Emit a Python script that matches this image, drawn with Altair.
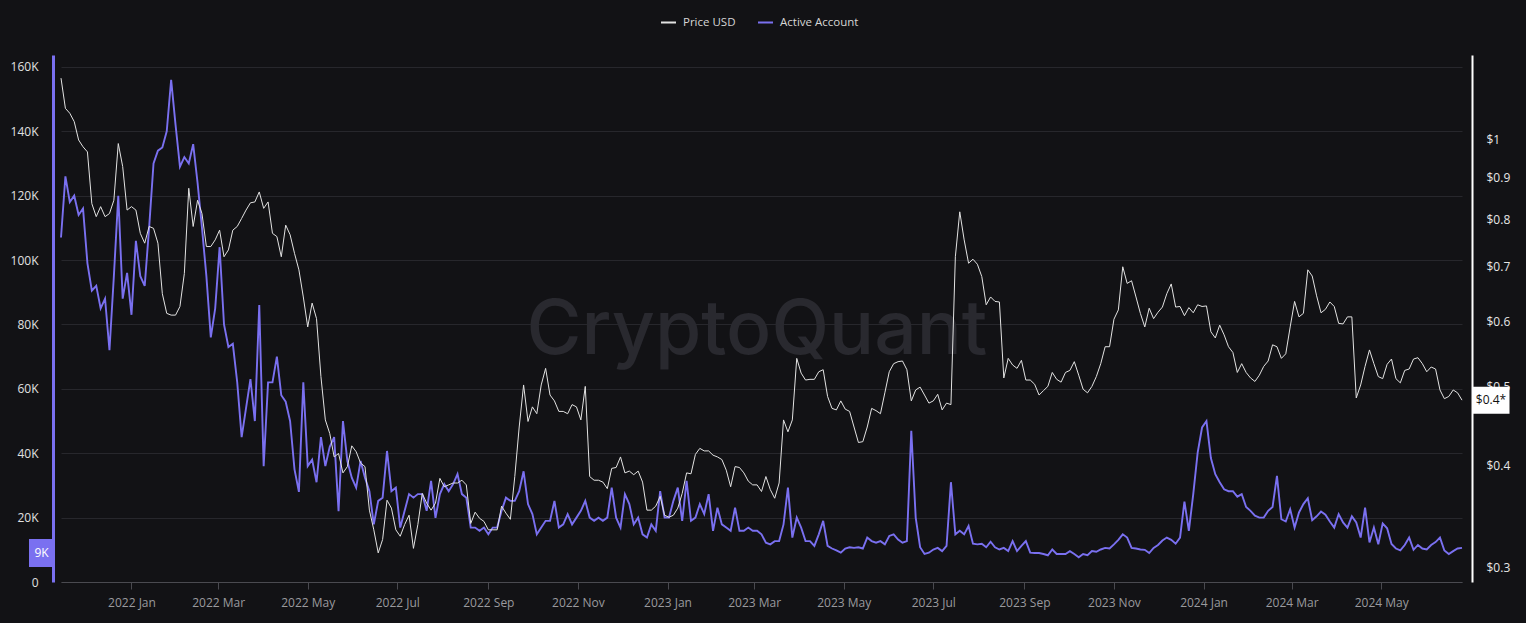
import altair as alt
import pandas as pd

# ---------------- data ----------------
START = "2021-11-14"          # first daily sample shown
STEP_DAYS = 3                 # values read every 3 days

active_account_k = [
    107, 126, 118, 120, 114, 116, 99, 90.5, 92, 85, 88, 72, 95, 120, 88, 96, 83, 106, 95, 92,
    110, 130, 134, 135, 140, 156, 142, 129, 132, 130, 136, 124, 110, 95, 76, 85, 104, 80, 73, 74,
    62, 45, 54, 63, 50, 86, 36, 62, 62, 70, 58, 56, 50, 35, 28, 62, 36, 38, 31, 45,
    36, 42, 45, 22, 50, 37.6, 32.4, 29.3, 37.6, 32.4, 28.2, 17.9, 25.2, 26.2, 40.7, 28.2, 29.3, 16.9, 22.1, 27.3,
    26.2, 27.3, 27.3, 22.1, 31.4, 19.9, 27.3, 30.4, 28.2, 30.4, 33.5, 27.3, 26.2, 16.9, 16.9, 15.9, 16.9, 14.8, 16.9, 16.9,
    22.1, 26.2, 25.2, 25.2, 28.2, 34.4, 24.2, 21.1, 14.8, 16.9, 19, 19, 25.2, 16.9, 17.9, 21.1, 17.9, 20, 22.1, 25.2,
    20, 19, 20, 19, 20, 29.3, 20, 16.9, 27.3, 24.2, 17.9, 20, 14.8, 13.8, 17.9, 15.9, 28.2, 20, 20, 25.2,
    29.3, 19, 31.4, 19, 20, 24.2, 21.1, 27.3, 15.9, 23.1, 17.9, 16.9, 15.9, 23.1, 15.9, 15.9, 16.9, 15.9, 15.9, 14.8,
    12.2, 11.7, 12.7, 12.7, 17.9, 29.3, 13.8, 20, 16.9, 12.7, 12.7, 11.2, 14.8, 19, 11.2, 10.4, 9.8, 9.1, 10.4, 10.8,
    10.6, 10.8, 10.4, 13.8, 12.7, 12.2, 12.7, 11.7, 14.3, 14.8, 13.2, 12.2, 12.7, 47, 20, 10.8, 8.7, 9.1, 10.1, 10.6,
    9.6, 11.2, 31, 14.8, 15.9, 14.8, 17.4, 11.9, 11.7, 11.9, 10.8, 12.5, 10.8, 10.1, 10.6, 9.6, 12.7, 9.6, 11.2, 12.7,
    9.1, 9.0, 9.0, 8.7, 8.3, 10.1, 8.7, 8.7, 8.7, 9.6, 8.7, 7.7, 8.7, 8.3, 9.6, 9.4, 10.1, 10.6, 10.4, 11.7,
    13.1, 14.8, 13.8, 10.6, 10.4, 10.1, 10, 9, 10.6, 11.5, 12.9, 13.8, 13.1, 11.9, 13.8, 25, 15.9, 27.3, 40.2, 48,
    50, 38.5, 33.5, 31, 28.8, 28.2, 28.2, 26.5, 27.3, 23.3, 22.1, 20.6, 20, 20, 22.1, 23.3, 33, 19.5, 18.8, 22.6,
    16.9, 21.6, 24.2, 26, 19.2, 20.4, 21.9, 20.9, 18.8, 16.9, 21.1, 18.5, 16.9, 20.4, 18.5, 13.8, 23.1, 12.3, 16.9, 11.7,
    18.2, 16.7, 11.8, 10.4, 9.8, 11.5, 13.8, 10, 11.5, 10.4, 10.1, 11.5, 12.4, 13.8, 9.8, 8.7, 9.6, 10.4, 10.6,
]

price_usd = [
    1.19, 1.093, 1.078, 1.053, 1.0, 0.981, 0.967, 0.836, 0.806, 0.829, 0.806, 0.813, 0.844, 0.99, 0.928, 0.821, 0.829, 0.821, 0.769, 0.748,
    0.784, 0.780, 0.748, 0.649, 0.614, 0.611, 0.611, 0.626, 0.687, 0.873, 0.784, 0.844, 0.813, 0.741, 0.741, 0.755, 0.776, 0.720, 0.734, 0.776,
    0.784, 0.802, 0.821, 0.838, 0.840, 0.864, 0.825, 0.840, 0.769, 0.762, 0.720, 0.787, 0.766, 0.727, 0.694, 0.643, 0.591, 0.632, 0.605, 0.514,
    0.455, 0.438, 0.410, 0.414, 0.392, 0.399, 0.423, 0.416, 0.403, 0.399, 0.353, 0.334, 0.313, 0.325, 0.363, 0.355, 0.334, 0.328, 0.339, 0.348,
    0.317, 0.339, 0.370, 0.360, 0.353, 0.360, 0.386, 0.377, 0.379, 0.381, 0.381, 0.384, 0.379, 0.340, 0.351, 0.345, 0.342, 0.334, 0.334, 0.334,
    0.357, 0.350, 0.344, 0.388, 0.446, 0.502, 0.453, 0.472, 0.463, 0.502, 0.526, 0.488, 0.480, 0.466, 0.466, 0.463, 0.475, 0.472, 0.455, 0.500,
    0.388, 0.384, 0.384, 0.382, 0.375, 0.397, 0.398, 0.410, 0.392, 0.394, 0.390, 0.394, 0.382, 0.353, 0.353, 0.357, 0.367, 0.348, 0.346, 0.348,
    0.355, 0.370, 0.392, 0.391, 0.413, 0.420, 0.417, 0.417, 0.412, 0.410, 0.407, 0.395, 0.377, 0.399, 0.398, 0.392, 0.383, 0.379, 0.379, 0.372,
    0.388, 0.374, 0.365, 0.381, 0.455, 0.440, 0.455, 0.541, 0.519, 0.509, 0.510, 0.510, 0.521, 0.524, 0.486, 0.470, 0.468, 0.480, 0.469, 0.466,
    0.446, 0.427, 0.428, 0.446, 0.470, 0.467, 0.463, 0.491, 0.521, 0.533, 0.536, 0.537, 0.524, 0.480, 0.495, 0.499, 0.488, 0.477, 0.480, 0.489,
    0.468, 0.477, 0.475, 0.720, 0.817, 0.755, 0.707, 0.715, 0.705, 0.681, 0.629, 0.643, 0.635, 0.634, 0.512, 0.541, 0.531, 0.526, 0.538, 0.509,
    0.509, 0.503, 0.488, 0.494, 0.500, 0.520, 0.510, 0.506, 0.520, 0.523, 0.536, 0.516, 0.496, 0.491, 0.500, 0.514, 0.533, 0.559, 0.559, 0.604,
    0.620, 0.700, 0.668, 0.673, 0.643, 0.614, 0.591, 0.623, 0.605, 0.616, 0.625, 0.649, 0.667, 0.625, 0.626, 0.610, 0.624, 0.615, 0.629, 0.626,
    0.627, 0.583, 0.573, 0.594, 0.578, 0.559, 0.550, 0.520, 0.533, 0.520, 0.512, 0.507, 0.516, 0.529, 0.537, 0.562, 0.559, 0.541, 0.548, 0.591,
    0.635, 0.608, 0.614, 0.694, 0.682, 0.645, 0.615, 0.621, 0.634, 0.626, 0.597, 0.596, 0.608, 0.608, 0.484, 0.502, 0.529, 0.554, 0.533, 0.514,
    0.511, 0.532, 0.540, 0.511, 0.505, 0.523, 0.525, 0.540, 0.542, 0.533, 0.521, 0.528, 0.525, 0.495, 0.483, 0.486, 0.495, 0.491, 0.481,
]

series_names = ["Price USD", "Active Account"]
left_ticks_k = [0, 20, 40, 60, 80, 100, 120, 140, 160]
right_ticks = [0.3, 0.4, 0.5, 0.6, 0.7, 0.8, 0.9, 1]
tick_months = [(2022, m) for m in (1, 3, 5, 7, 9, 11)] + [(2023, m) for m in (1, 3, 5, 7, 9, 11)] + [(2024, m) for m in (1, 3, 5)]
active_tag = (9, "9K")
price_tag_label = "$0.4*"
watermark = "CryptoQuant"

# ---------------- styling ----------------
BG = "#121215"
PURPLE = "#7a70f0"
WHITE_LINE = "#e2e2e2"
GRID = "#27272c"
FONT = "Open Sans"

dates = pd.date_range(START, periods=len(active_account_k), freq=f"{STEP_DAYS}D").strftime("%Y-%m-%dT00:00:00")
df_active = pd.DataFrame({"date": dates, "value": active_account_k, "series": series_names[1]})
df_price = pd.DataFrame({"date": dates[: len(price_usd)], "value": price_usd, "series": series_names[0]})

x_enc = alt.X(
    "date:T",
    scale=alt.Scale(domain=[alt.DateTime(year=2021, month=11, date=14), alt.DateTime(year=2024, month=6, date=25)]),
    axis=alt.Axis(
        values=[alt.DateTime(year=y, month=m, date=1) for y, m in tick_months],
        format="%Y %b", title=None, grid=False,
        domainColor="#4a4a50", tickColor="#4a4a50", tickSize=7, labelPadding=8,
        labelColor="#9a9a9e", labelFontSize=12, labelFont=FONT,
    ),
)

color_enc = alt.Color(
    "series:N",
    scale=alt.Scale(domain=series_names, range=[WHITE_LINE, PURPLE]),
    legend=alt.Legend(
        orient="none", legendX=599, legendY=-41, direction="horizontal", title=None,
        symbolType="stroke", symbolSize=225, symbolStrokeWidth=2,
        labelColor="#d6d6d6", labelFontSize=11.5, labelFont=FONT,
        columnPadding=18, labelOffset=6, padding=0,
    ),
)

y_left = alt.Y(
    "value:Q",
    scale=alt.Scale(domain=[0, 163.7], nice=False, zero=False),
    axis=alt.Axis(
        orient="left", values=left_ticks_k, title=None,
        labelExpr="datum.value == 0 ? '0' : datum.value + 'K'",
        domainColor=PURPLE, domainWidth=3, offset=8, ticks=False, labelPadding=15,
        grid=True, gridColor=GRID, gridWidth=1,
        labelColor="#e0e0e0", labelFontSize=12, labelFont=FONT,
    ),
)

y_right = alt.Y(
    "value:Q",
    scale=alt.Scale(type="log", domain=[0.2884, 1.27], nice=False),
    axis=alt.Axis(
        orient="right", values=right_ticks, title=None,
        labelExpr="'$' + datum.value",
        domainColor="#ffffff", domainWidth=2, offset=10, ticks=False, labelPadding=14,
        grid=False, labelColor="#e6e6e6", labelFontSize=12, labelFont=FONT,
    ),
)

wm = alt.Chart(pd.DataFrame({"t": [watermark]})).mark_text(
    fontSize=75, font="Inter", fontWeight=500, color="#29292f", align="center", baseline="middle"
).encode(x=alt.value(696), y=alt.value(276), text="t:N")

active_line = alt.Chart(df_active).mark_line(strokeWidth=1.9).encode(x=x_enc, y=y_left, color=color_enc)

df_tag_left = pd.DataFrame({"value": [active_tag[0]], "label": [active_tag[1]]})
left_box = alt.Chart(df_tag_left).mark_point(
    shape="M-1,-1.12L1,-1.12L1,1.12L-1,1.12Z", size=625, filled=True, opacity=1, color=PURPLE
).encode(x=alt.value(-19.5), y=y_left)
left_text = alt.Chart(df_tag_left).mark_text(color="#ffffff", fontSize=12, font=FONT).encode(
    x=alt.value(-19.5), y=y_left, text="label:N"
)

price_line = alt.Chart(df_price).mark_line(strokeWidth=1.0).encode(x=x_enc, y=y_right, color=color_enc)

df_tag_right = pd.DataFrame({"value": [price_usd[-1]], "label": [price_tag_label]})
right_box = alt.Chart(df_tag_right).mark_point(
    shape="M-1,-0.73L1,-0.73L1,0.73L-1,0.73Z", size=1369, filled=True, opacity=1, color="#ffffff"
).encode(x=alt.value(1430), y=y_right)
right_text = alt.Chart(df_tag_right).mark_text(color="#111111", fontSize=12, font=FONT).encode(
    x=alt.value(1430), y=y_right, text="label:N"
)

left = alt.layer(wm, active_line, left_box, left_text)
right = alt.layer(price_line, right_box, right_text)

chart = (
    alt.layer(left, right)
    .resolve_scale(y="independent")
    .properties(
        width=1401, height=527,
        padding={"left": 61, "top": 55, "right": 64, "bottom": 41},
        autosize=alt.AutoSizeParams(type="none"),
        background=BG,
    )
    .configure_view(stroke=None)
)

chart.save("out.html", embed_options={"renderer": "svg", "actions": False})
